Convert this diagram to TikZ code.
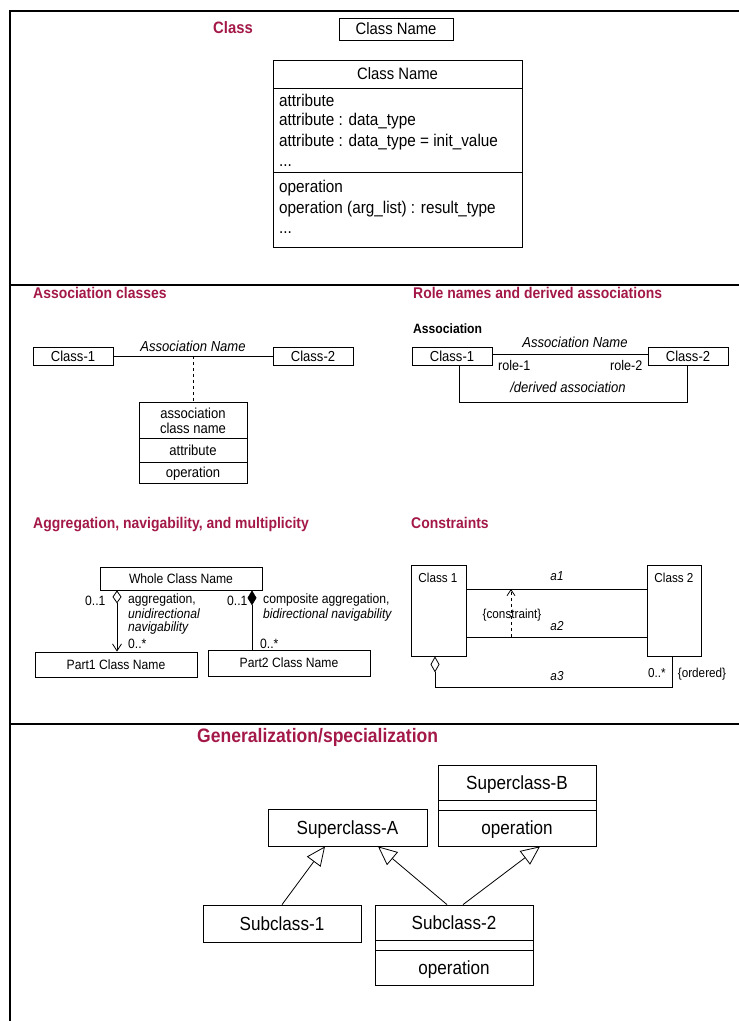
\documentclass[tikz,border=0pt]{standalone}
\usepackage{fontspec}
\setmainfont{Liberation Sans}[FakeStretch=0.9]
\usetikzlibrary{arrows.meta}
\definecolor{umlred}{RGB}{163,24,72}
\newcommand{\fs}[1]{\fontsize{#1}{#1}\selectfont}
\begin{document}
\begin{tikzpicture}[x=1pt,y=-1pt,
  frame/.style={line width=2pt},
  box/.style={draw, line width=0.8pt, inner sep=0pt, text depth=0pt},
  conn/.style={draw, line width=0.8pt},
  ttl/.style={anchor=base west, inner sep=0pt, text=umlred, font=\bfseries\fs{15.5}},
  lbl/.style={anchor=base west, inner sep=0pt},
  clbl/.style={anchor=base, inner sep=0pt},
  gen/.style={conn, -{Triangle[open, length=19pt, width=17pt]}}
]
\useasboundingbox (0,0) rectangle (739,1021);
% frame
\draw[frame] (9,11) -- (739,11);
\draw[frame] (10,10) -- (10,1021);
\draw[frame] (10,285) -- (739,285);
\draw[frame] (10,724) -- (739,724);

% ---------- Class ----------
\node[ttl, font=\bfseries\fs{16.5}] (tclass) at (213,33) {Class};
\node[box, font=\fs{16.5}, minimum width=114pt, minimum height=22pt] (cnsmall) at (396,29) {Class Name};
\node[box, font=\fs{16.5}, minimum width=249pt, minimum height=28pt] (bct) at (397.5,74) {Class Name};
\node[box, minimum width=249pt, minimum height=84pt] (bca) at (397.5,130) {};
\node[box, minimum width=249pt, minimum height=75pt] (bco) at (397.5,209.5) {};
\begin{scope}[every node/.style={lbl, font=\fs{17}}]
\node (at1) at (279,106) {attribute};
\node (at2) at (279,125) {attribute : data\_type};
\node (at3) at (279,146) {attribute : data\_type = init\_value};
\node (at4) at (279,166) {...};
\node (op1) at (279,192) {operation};
\node (op2) at (279,213) {operation (arg\_list) : result\_type};
\node (op3) at (279,233) {...};
\end{scope}

% ---------- Association classes ----------
\node[ttl] (tac) at (33,298) {Association classes};
\node[box, font=\fs{14.5}, minimum width=80pt, minimum height=18pt] (ac1) at (73,356) {Class-1};
\node[box, font=\fs{14.5}, minimum width=80pt, minimum height=18pt] (ac2) at (313,356) {Class-2};
\draw[conn, line width=0.7pt] (ac1) -- (ac2);
\node[clbl, font=\itshape\fs{14.5}] (acname) at (193,351) {Association Name};
\coordinate (acm) at (193,356);
\node[box, minimum width=108pt, minimum height=36pt] (acc1) at (193,420) {};
\node[box, font=\fs{14.5}, minimum width=108pt, minimum height=24pt] (acc2) at (193,450) {attribute};
\node[box, font=\fs{14.5}, minimum width=108pt, minimum height=21pt] (acc3) at (193,472.5) {operation};
\node[clbl, font=\fs{14.5}] (acct1) at (193,418) {association};
\node[clbl, font=\fs{14.5}] (acct2) at (193,433) {class name};
\draw[conn, line width=0.7pt, dashed] (acm) -- (acc1.north);

% ---------- Role names ----------
\node[ttl] (trn) at (413,298) {Role names and derived associations};
\node[lbl, font=\bfseries\fs{13.5}] (rassoc) at (413,333) {Association};
\node[box, font=\fs{14.5}, minimum width=80pt, minimum height=18pt] (rc1) at (452,356) {Class-1};
\node[box, font=\fs{14.5}, minimum width=80pt, minimum height=18pt] (rc2) at (688,356) {Class-2};
\draw[conn, line width=0.7pt] ([yshift=2pt]rc1.east) -- ([yshift=2pt]rc2.west);
\node[clbl, font=\itshape\fs{14.5}] (rname) at (575,347) {Association Name};
\node[lbl, font=\fs{14}] (role1) at (498,370) {role-1};
\node[lbl, font=\fs{14}] (role2) at (610,370) {role-2};
\draw[conn, line width=0.7pt] ([xshift=7pt]rc1.south) -- ++(0,37) -| ([xshift=-1pt]rc2.south);
\node[clbl, font=\itshape\fs{14.5}] (rderiv) at (568,392) {/derived association};

% ---------- Aggregation ----------
\node[ttl] (tag) at (33,528) {Aggregation, navigability, and multiplicity};
\node[box, font=\fs{13.5}, minimum width=162pt, minimum height=23pt] (wh) at (181,578.5) {Whole Class Name};
\node[box, font=\fs{13.5}, minimum width=162pt, minimum height=25pt] (p1) at (116,664.5) {Part1 Class Name};
\node[box, font=\fs{13.5}, minimum width=162pt, minimum height=26pt] (p2) at (289,663) {Part2 Class Name};
\draw[conn, {Diamond[open, length=13pt, width=9pt]}-{Straight Barb[length=7pt, width=9pt]}] ([xshift=-64pt]wh.south) -- ([xshift=1pt]p1.north);
\draw[conn, {Diamond[length=15pt, width=9pt]}-] ([xshift=71pt]wh.south) -- ([xshift=-37pt]p2.north);
\begin{scope}[every node/.style={lbl, font=\fs{13.5}}]
\node (m1) at (85,605) {0..1};
\node (g1) at (128,603) {aggregation,};
\node[font=\itshape\fs{13.5}] (g2) at (128,618) {unidirectional};
\node[font=\itshape\fs{13.5}] (g3) at (128,631) {navigability};
\node (m2) at (128,648) {0..*};
\node (m3) at (227,605) {0..1};
\node (g4) at (263,603) {composite aggregation,};
\node[font=\itshape\fs{13.5}] (g5) at (263,618) {bidirectional navigability};
\node (m4) at (260,648) {0..*};
\end{scope}

% ---------- Constraints ----------
\node[ttl] (tco) at (411,528) {Constraints};
\node[box, minimum width=55pt, minimum height=91pt] (k1) at (438.5,610.5) {};
\node[box, minimum width=54pt, minimum height=91pt] (k2) at (674,610.5) {};
\node[clbl, font=\fs{13}] (k1t) at (438,582) {Class 1};
\node[clbl, font=\fs{13}] (k2t) at (674,582) {Class 2};
\draw[conn] ([yshift=21.5pt]k1.east) -- ([yshift=21.5pt]k2.west);
\draw[conn] ([yshift=-26.5pt]k1.east) -- ([yshift=-26.5pt]k2.west);
\coordinate (kd1) at (511,637);
\coordinate (kd2) at (511,589);
\draw[conn, dashed, -{Straight Barb[length=6pt, width=8pt]}] (kd1) -- (kd2);
\draw[conn, {Diamond[open, length=16pt, width=9pt]}-] ([xshift=-3.5pt]k1.south) -- ++(0,31) -| ([xshift=-2pt]k2.south);
\begin{scope}[every node/.style={clbl, font=\itshape\fs{13}}]
\node (ka1) at (557,580) {a1};
\node (ka2) at (557,630) {a2};
\node (ka3) at (557,680) {a3};
\end{scope}
\node[clbl, font=\fs{13}] (kcon) at (512,618) {\{constraint\}};
\node[clbl, font=\fs{13}] (kmul) at (657,677) {0..*};
\node[clbl, font=\fs{13}] (kord) at (702,677) {\{ordered\}};

% ---------- Generalization ----------
\node[ttl, font=\bfseries\fs{19.5}] (tgen) at (197,742) {Generalization/specialization};
\node[box, font=\fs{19}, minimum width=159pt, minimum height=37pt] (sa) at (347.5,827.5) {Superclass-A};
\node[box, font=\fs{19}, minimum width=158pt, minimum height=35pt] (sb1) at (517,782.5) {Superclass-B};
\node[box, minimum width=158pt, minimum height=10pt] (sb2) at (517,805) {};
\node[box, font=\fs{19}, minimum width=158pt, minimum height=36pt] (sb3) at (517,828) {operation};
\node[box, font=\fs{19}, minimum width=158pt, minimum height=37pt] (s1) at (282,923.5) {Subclass-1};
\node[box, font=\fs{19}, minimum width=158pt, minimum height=35pt] (s2t) at (454,922.5) {Subclass-2};
\node[box, minimum width=158pt, minimum height=10pt] (s2m) at (454,945) {};
\node[box, font=\fs{19}, minimum width=158pt, minimum height=35pt] (s2b) at (454,967.5) {operation};
\draw[gen] (s1.north) -- ([xshift=-22.5pt]sa.south);
\draw[gen] ([xshift=-7pt]s2t.north) -- ([xshift=30.5pt]sa.south);
\draw[gen] ([xshift=9pt]s2t.north) -- ([xshift=23pt]sb3.south);
\end{tikzpicture}
\end{document}
